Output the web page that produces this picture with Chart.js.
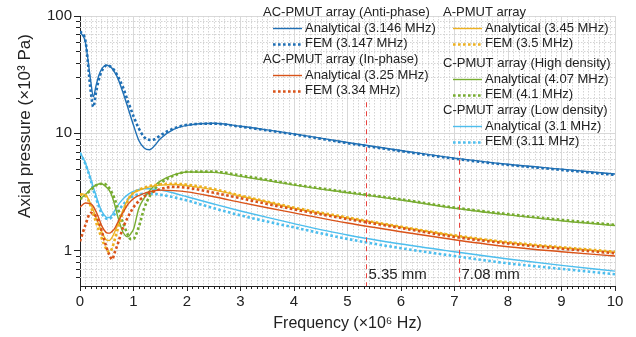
<!DOCTYPE html>
<html>
<head>
<meta charset="utf-8">
<script src="https://cdn.jsdelivr.net/npm/chart.js@4.4.0/dist/chart.umd.min.js"></script>
<style>
  html, body { margin: 0; padding: 0; background: #fff; }
  #chart { display: block; }
</style>
</head>
<body>
<canvas id="chart" width="636" height="337"></canvas>
<script>
// frequency (x10^6 Hz)
const freq = [0, 0.1, 0.2, 0.25, 0.3, 0.35, 0.4, 0.45, 0.5, 0.55, 0.6, 0.65, 0.7, 0.8, 0.9, 0.95, 1.0, 1.1, 1.2, 1.3, 1.4, 1.5, 1.75, 2, 2.5, 3, 3.5, 4, 5, 6, 7, 8, 9, 10];

// axial pressure (x10^3 Pa)
const antiAnalytical = [73, 60, 28, 20.5, 25.5, 31, 35, 37.3, 38, 37.3, 35.7, 33, 30, 22.5, 16.3, 13.8, 11.7, 8.7, 7.5, 7.25, 7.9, 9.0, 10.8, 11.7, 12.2, 11.5, 10.7, 9.9, 8.35, 7.15, 6.15, 5.45, 4.95, 4.5];
const antiFEM = [74, 62, 23, 16.8, 22.4, 28.5, 33.4, 36.5, 38, 37.5, 36.2, 34, 31, 24.9, 18.5, 16.1, 14, 11, 9.3, 8.8, 8.9, 9.6, 11.0, 11.8, 12.1, 11.4, 10.6, 9.8, 8.25, 7.05, 6.08, 5.38, 4.88, 4.42];
const inAnalytical = [2.35, 2.55, 2.52, 2.38, 2.15, 1.9, 1.65, 1.5, 1.42, 1.41, 1.46, 1.55, 1.72, 2.1, 2.5, 2.65, 2.78, 2.95, 3.08, 3.18, 3.25, 3.28, 3.25, 3.17, 2.88, 2.58, 2.32, 2.1, 1.72, 1.45, 1.24, 1.08, 0.98, 0.9];
const inFEM = [1.2, 1.65, 2.1, 2.05, 1.95, 1.75, 1.5, 1.25, 1.05, 0.92, 0.84, 0.97, 1.12, 1.55, 1.95, 2.15, 2.35, 2.65, 2.9, 3.08, 3.22, 3.35, 3.5, 3.44, 3.12, 2.8, 2.5, 2.25, 1.86, 1.56, 1.31, 1.15, 1.04, 0.95];
const aAnalytical = [3.05, 3.0, 2.5, 2.2, 1.92, 1.68, 1.47, 1.32, 1.23, 1.22, 1.3, 1.45, 1.65, 2.2, 2.75, 2.95, 3.1, 3.27, 3.4, 3.5, 3.57, 3.62, 3.66, 3.58, 3.3, 2.92, 2.6, 2.3, 1.9, 1.59, 1.34, 1.17, 1.06, 0.97];
const aFEM = [3.0, 2.95, 2.4, 2.05, 1.75, 1.5, 1.3, 1.13, 1.02, 0.97, 1.05, 1.25, 1.5, 2.1, 2.7, 2.95, 3.12, 3.3, 3.45, 3.55, 3.62, 3.68, 3.72, 3.65, 3.35, 2.95, 2.62, 2.33, 1.92, 1.6, 1.35, 1.18, 1.07, 0.98];
const highAnalytical = [2.77, 3.0, 3.35, 3.5, 3.62, 3.7, 3.72, 3.62, 3.45, 3.25, 2.9, 2.45, 2.0, 1.45, 1.31, 1.4, 1.52, 2.3, 2.8, 3.25, 3.6, 3.92, 4.42, 4.68, 4.65, 4.3, 3.95, 3.62, 3.12, 2.7, 2.3, 2.02, 1.8, 1.64];
const highFEM = [2.75, 2.95, 3.3, 3.45, 3.6, 3.68, 3.72, 3.72, 3.6, 3.4, 3.1, 2.75, 2.35, 1.75, 1.35, 1.25, 1.26, 1.6, 2.3, 2.9, 3.37, 3.75, 4.35, 4.7, 4.72, 4.38, 4.02, 3.67, 3.16, 2.74, 2.33, 2.05, 1.83, 1.66];
const lowAnalytical = [6.9, 5.6, 4.1, 3.45, 2.95, 2.5, 2.2, 2.02, 1.92, 1.92, 2.02, 2.2, 2.4, 2.75, 3.02, 3.12, 3.2, 3.32, 3.37, 3.37, 3.33, 3.28, 3.1, 2.88, 2.5, 2.18, 1.92, 1.7, 1.36, 1.14, 0.98, 0.85, 0.75, 0.67];
const lowFEM = [6.8, 5.5, 4.0, 3.3, 2.8, 2.4, 2.1, 1.95, 1.87, 1.87, 1.95, 2.05, 2.15, 2.45, 2.75, 2.85, 2.92, 3.02, 3.06, 3.07, 3.05, 3.0, 2.85, 2.68, 2.3, 2.0, 1.77, 1.58, 1.26, 1.05, 0.9, 0.78, 0.7, 0.63];

const groupNames = ["AC-PMUT array (Anti-phase)", "AC-PMUT array (In-phase)", "A-PMUT array", "C-PMUT array (High density)", "C-PMUT array (Low density)"];
const seriesNames = ["Analytical (3.146 MHz)", "FEM (3.147 MHz)", "Analytical (3.25 MHz)", "FEM (3.34 MHz)", "Analytical (3.45 MHz)", "FEM (3.5 MHz)", "Analytical (4.07 MHz)", "FEM (4.1 MHz)", "Analytical (3.1 MHz)", "FEM (3.11 MHz)"];

const yMajorTicks = [1, 10, 100];
const yMinorTicks = [0.6, 0.7, 0.8, 0.9, 2, 3, 4, 5, 6, 7, 8, 9, 20, 30, 40, 50, 60, 70, 80, 90];

// dashed marker lines (frequency, top value, label)
const markerFreqs = [5.35, 7.08];
const markerTops = [18.4, 7.1];
const markerLabels = ["5.35 mm", "7.08 mm"];

const FONT = "'Liberation Sans', Arial, sans-serif";
const TEXT = "#222";

function series(label, values, color, dotted) {
  return {
    label: label,
    data: freq.map((f, i) => ({ x: f, y: values[i] })),
    borderColor: color,
    borderWidth: dotted ? 2.6 : 1.4,
    borderDash: dotted ? [2.6, 2.4] : [],
    borderCapStyle: "butt",
    pointRadius: 0,
    cubicInterpolationMode: "monotone",
    fill: false,
  };
}

const datasets = [
  series(seriesNames[0], antiAnalytical, "#1f6fb4", false),
  series(seriesNames[1], antiFEM, "#1f6fb4", true),
  series(seriesNames[2], inAnalytical, "#d95319", false),
  series(seriesNames[3], inFEM, "#d95319", true),
  series(seriesNames[4], aAnalytical, "#edb120", false),
  series(seriesNames[5], aFEM, "#edb120", true),
  series(seriesNames[6], highAnalytical, "#77ac30", false),
  series(seriesNames[7], highFEM, "#77ac30", true),
  series(seriesNames[8], lowAnalytical, "#4dbeee", false),
  series(seriesNames[9], lowFEM, "#4dbeee", true),
];

// minor grid lines, minor ticks and the y axis title
const minorGrid = {
  id: "minorGrid",
  beforeDatasetsDraw(chart) {
    const { ctx, chartArea: a, scales: { x, y } } = chart;
    ctx.save();
    ctx.strokeStyle = "#d4d4d4";
    ctx.lineWidth = 1;
    ctx.setLineDash([1.5, 1.5]);
    ctx.beginPath();
    for (let i = 1; i < 100; i++) {
      if (i % 10 === 0) continue;
      const px = Math.round(x.getPixelForValue(i / 10)) + 0.5;
      ctx.moveTo(px, a.top);
      ctx.lineTo(px, a.bottom);
    }
    yMinorTicks.forEach((v) => {
      const py = Math.round(y.getPixelForValue(v)) + 0.5;
      ctx.moveTo(a.left, py);
      ctx.lineTo(a.right, py);
    });
    ctx.stroke();

    ctx.setLineDash([]);
    ctx.strokeStyle = TEXT;
    ctx.beginPath();
    for (let i = 1; i < 100; i++) {
      if (i % 10 === 0) continue;
      const px = Math.round(x.getPixelForValue(i / 10)) + 0.5;
      ctx.moveTo(px, a.bottom);
      ctx.lineTo(px, a.bottom + 3);
    }
    yMinorTicks.forEach((v) => {
      const py = Math.round(y.getPixelForValue(v)) + 0.5;
      ctx.moveTo(a.left - 4, py);
      ctx.lineTo(a.left, py);
    });
    ctx.stroke();

    ctx.translate(25, 126);
    ctx.rotate(-Math.PI / 2);
    ctx.font = "17px " + FONT;
    ctx.fillStyle = TEXT;
    ctx.textAlign = "center";
    ctx.textBaseline = "middle";
    ctx.fillText("Axial pressure (×10³ Pa)", 0, 0);
    ctx.restore();
  },
};

// red dashed lines with labels
const markers = {
  id: "markers",
  afterDatasetsDraw(chart) {
    const { ctx, chartArea: a, scales: { x, y } } = chart;
    ctx.save();
    ctx.strokeStyle = "#e8433f";
    ctx.lineWidth = 1;
    ctx.setLineDash([5, 4]);
    ctx.font = "15px " + FONT;
    ctx.fillStyle = TEXT;
    ctx.textBaseline = "alphabetic";
    markerFreqs.forEach((f, i) => {
      const px = Math.round(x.getPixelForValue(f)) + 0.5;
      ctx.beginPath();
      ctx.moveTo(px, y.getPixelForValue(markerTops[i]));
      ctx.lineTo(px, a.bottom);
      ctx.stroke();
      ctx.fillText(markerLabels[i], px + 2, a.bottom - 7);
    });
    ctx.restore();
  },
};

// grouped legend in two columns
const groupLegend = {
  id: "groupLegend",
  afterDatasetsDraw(chart) {
    const ctx = chart.ctx;
    const cols = [
      { x: 263, groups: [[0, 12], [1, 59]] },
      { x: 443, groups: [[2, 12], [3, 63], [4, 110]] },
    ];
    ctx.save();
    ctx.font = "13px " + FONT;
    ctx.fillStyle = TEXT;
    ctx.textBaseline = "middle";
    cols.forEach((col) => {
      col.groups.forEach(([g, gy]) => {
        ctx.fillText(groupNames[g], col.x, gy);
        [0, 1].forEach((k) => {
          const ds = chart.data.datasets[g * 2 + k];
          const ry = gy + 16 + k * 15.5;
          ctx.save();
          ctx.strokeStyle = ds.borderColor;
          ctx.lineWidth = ds.borderWidth;
          ctx.setLineDash(ds.borderDash);
          ctx.beginPath();
          ctx.moveTo(col.x + 10, Math.round(ry) + 0.5);
          ctx.lineTo(col.x + 39, Math.round(ry) + 0.5);
          ctx.stroke();
          ctx.restore();
          ctx.fillText(ds.label, col.x + 42, ry);
        });
      });
    });
    ctx.restore();
  },
};

new Chart(document.getElementById("chart"), {
  type: "line",
  data: { datasets: datasets },
  plugins: [minorGrid, markers, groupLegend],
  options: {
    responsive: false,
    animation: false,
    devicePixelRatio: 1,
    layout: { padding: { top: 16, right: 21, left: 0, bottom: 0 } },
    plugins: { legend: { display: false }, tooltip: { enabled: false } },
    scales: {
      x: {
        type: "linear",
        min: 0,
        max: 10,
        ticks: { stepSize: 1, color: TEXT, font: { size: 15, family: FONT }, padding: 2, maxRotation: 0 },
        grid: { color: "#d9d9d9", tickColor: TEXT, tickLength: 5 },
        border: { color: TEXT, width: 1 },
        title: { display: true, text: "Frequency (×10⁶ Hz)", color: TEXT, font: { size: 16, family: FONT }, padding: { top: 0, bottom: 4 } },
        afterFit: (s) => { s.height = 51; },
      },
      y: {
        type: "logarithmic",
        min: 0.5,
        max: 100,
        afterBuildTicks: (s) => { s.ticks = yMajorTicks.map((v) => ({ value: v })); },
        ticks: { color: TEXT, font: { size: 15, family: FONT }, padding: 2, callback: (v) => String(v) },
        grid: { color: "#d9d9d9", tickColor: TEXT, tickLength: 6 },
        border: { color: TEXT, width: 1 },
        title: { display: false },
        afterFit: (s) => { s.width = 80; },
      },
    },
  },
});
</script>
</body>
</html>
